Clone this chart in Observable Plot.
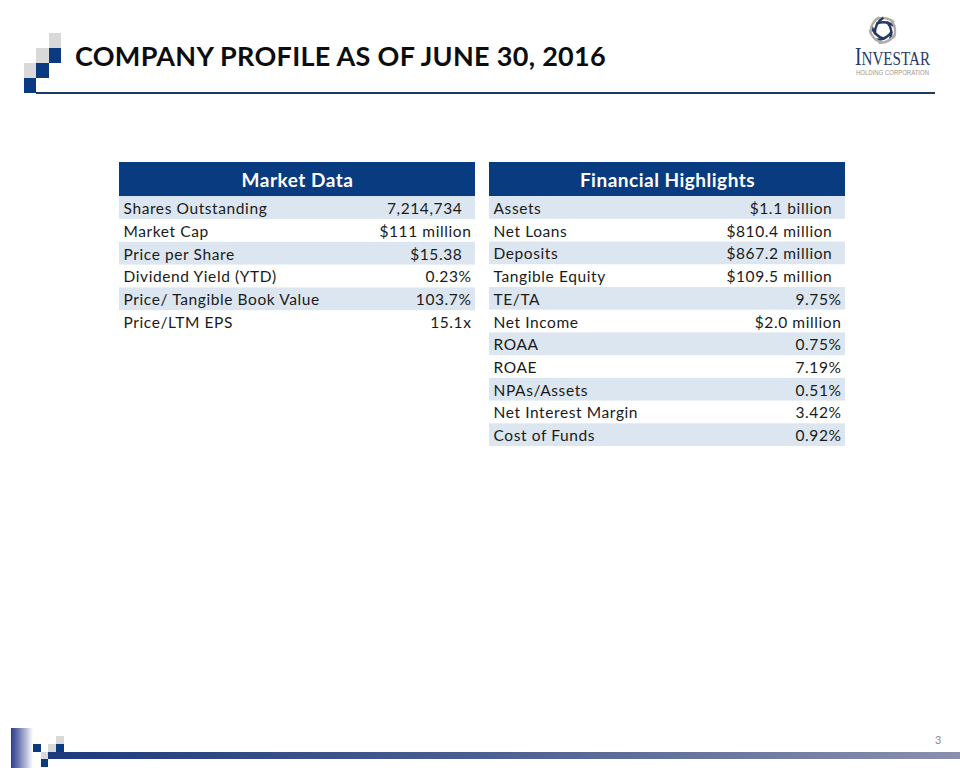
<!DOCTYPE html>
<html>
<head>
<meta charset="utf-8">
<script src="https://cdn.jsdelivr.net/npm/d3@7"></script>
<script src="https://cdn.jsdelivr.net/npm/@observablehq/plot@0.6"></script>
<style>
  html, body { margin: 0; padding: 0; background: #fff; }
  #slide { position: relative; width: 960px; height: 768px; overflow: hidden; background: #fff; font-family: Lato, "Open Sans", sans-serif; }
  .abs { position: absolute; }
  #title { left: 75px; top: 39px; font-size: 27px; font-weight: 700; color: #0d0d0d; white-space: nowrap; letter-spacing: 0.3px; }
  #pagenum { left: 935px; top: 733px; font-size: 11px; color: #8c8c8c; }
  #market { left: 119px; top: 162px; }
  #fin { left: 489px; top: 162px; }
</style>
</head>
<body>
<div id="slide">
  <!-- top-left stepped squares -->
  <div class="abs" style="left:49px;top:33px;width:12px;height:15px;background:#d9d9d9"></div>
  <div class="abs" style="left:49px;top:48px;width:12px;height:15px;background:#0b3a80"></div>
  <div class="abs" style="left:36px;top:48px;width:13px;height:15px;background:#d9d9d9"></div>
  <div class="abs" style="left:36px;top:63px;width:13px;height:15px;background:#0b3a80"></div>
  <div class="abs" style="left:24px;top:63px;width:12px;height:15px;background:#d9d9d9"></div>
  <div class="abs" style="left:24px;top:78px;width:12px;height:15px;background:#0b3a80"></div>
  <div class="abs" style="left:36px;top:92px;width:899px;height:2px;background:#1d3b5c"></div>
  <div id="title" class="abs"></div>

  <!-- logo -->
  <svg class="abs" style="left:840px;top:5px;overflow:visible" width="115" height="78" viewBox="840 5 115 78">
    <g transform="translate(883 30) scale(1.35) translate(-883 -30)"><g id="star"></g></g>
    <text x="855" y="65" font-family="'Liberation Serif','DejaVu Serif',serif" fill="#243a66" textLength="75" lengthAdjust="spacingAndGlyphs"><tspan font-size="25">I</tspan><tspan font-size="19.5">NVESTAR</tspan></text>
    <text x="856" y="75" font-family="'Liberation Sans',Arial,sans-serif" font-size="6.6" fill="#9d968c" textLength="73" lengthAdjust="spacingAndGlyphs">HOLDING CORPORATION</text>
  </svg>

  <div id="market" class="abs"></div>
  <div id="fin" class="abs"></div>

  <!-- bottom decoration -->
  <div class="abs" style="left:11px;top:728px;width:22px;height:40px;background:linear-gradient(to right,#2a3e8c,#6d78b0 35%,#ffffff)"></div>
  <div class="abs" style="left:33px;top:744px;width:8px;height:8px;background:#0b3a80"></div>
  <div class="abs" style="left:48px;top:744px;width:8px;height:8px;background:#d9d9d9"></div>
  <div class="abs" style="left:56px;top:736px;width:8px;height:8px;background:#d9d9d9"></div>
  <div class="abs" style="left:56px;top:744px;width:8px;height:8px;background:#0b3a80"></div>
  <div class="abs" style="left:41px;top:752px;width:7px;height:7px;background:#d9d9d9"></div>
  <div class="abs" style="left:41px;top:759px;width:7px;height:8px;background:#0b3a80"></div>
  <div class="abs" style="left:48px;top:752px;width:912px;height:7px;background:linear-gradient(to right,#1d3a7c,#4f6192 50%,#8a8fad)"></div>
  <div id="pagenum" class="abs"></div>
</div>
<script>
// ---- text ----
const slideTitle = "COMPANY PROFILE AS OF JUNE 30, 2016";
const pageNumber = "3";
const tableTitles = ["Market Data", "Financial Highlights"];

// ---- Market Data ----
const marketLabels = ["Shares Outstanding", "Market Cap", "Price per Share", "Dividend Yield (YTD)", "Price/ Tangible Book Value", "Price/LTM EPS"];
const marketValues = ["7,214,734\u00a0\u00a0", "$111 million", "$15.38\u00a0\u00a0", "0.23%", "103.7%", "15.1x"];

// ---- Financial Highlights ----
const finLabels = ["Assets", "Net Loans", "Deposits", "Tangible Equity", "TE/TA", "Net Income", "ROAA", "ROAE", "NPAs/Assets", "Net Interest Margin", "Cost of Funds"];
const finValues = ["$1.1 billion\u00a0\u00a0", "$810.4 million\u00a0\u00a0", "$867.2 million\u00a0\u00a0", "$109.5 million\u00a0\u00a0", "9.75%", "$2.0 million", "0.75%", "7.19%", "0.51%", "3.42%", "0.92%"];

document.getElementById("title").textContent = slideTitle;
document.getElementById("pagenum").textContent = pageNumber;

// star logo: five blades, each a navy and a grey stroke, set round a hollow centre
(function () {
  const g = document.getElementById("star");
  const cx = 883, cy = 30;
  for (let k = 0; k < 5; k++) {
    [["#243a66", 0], ["#b3ada3", 3.2]].forEach(([col, off]) => {
      const p = document.createElementNS("http://www.w3.org/2000/svg", "path");
      const r = 5.5 + off;
      p.setAttribute("d", `M ${cx - 4} ${cy - r} Q ${cx + 4} ${cy - r - 1.5} ${cx + 9} ${cy - r + 4.5}`);
      p.setAttribute("fill", "none");
      p.setAttribute("stroke", col);
      p.setAttribute("stroke-width", "1.8");
      p.setAttribute("stroke-linecap", "butt");
      p.setAttribute("transform", `rotate(${k * 72 - 10} ${cx} ${cy})`);
      g.appendChild(p);
    });
  }
})();

const rowH = 22.75;
const headerRows = 1.5;

function table(title, labels, values, width) {
  const n = labels.length;
  const height = Math.round((headerRows + n) * rowH);
  const rows = labels.map((label, i) => ({i, label, value: values[i]}));
  return Plot.plot({
    width, height,
    margin: 0,
    style: {fontFamily: "Lato, 'Open Sans', sans-serif", background: "transparent"},
    x: {domain: [0, 1], axis: null},
    y: {domain: [-headerRows, n], range: [0, height], axis: null},
    marks: [
      Plot.rect([title], {x1: 0, x2: 1, y1: -headerRows, y2: 0, fill: "#083b7f"}),
      Plot.text([title], {x: 0.5, y: -headerRows / 2, text: d => d, fill: "#ffffff", fontSize: 19, fontWeight: "bold", dy: 1}),
      Plot.rect(rows.filter(d => d.i % 2 === 0), {x1: 0, x2: 1, y1: d => d.i, y2: d => d.i + 1, fill: "#dce6f1"}),
      Plot.text(rows, {x: 0, y: d => d.i + 0.5, text: "label", textAnchor: "start", dx: 4, fill: "#1a1a1a", fontSize: 15.5, dy: 1}),
      Plot.text(rows, {x: 1, y: d => d.i + 0.5, text: "value", textAnchor: "end", dx: -4, fill: "#1a1a1a", fontSize: 15.5, dy: 1})
    ]
  });
}

document.getElementById("market").appendChild(table(tableTitles[0], marketLabels, marketValues, 356));
document.getElementById("fin").appendChild(table(tableTitles[1], finLabels, finValues, 356));
// letter spacing of the table texts, to match the wide set of the original
document.querySelectorAll("#market svg g[aria-label='text'], #fin svg g[aria-label='text']").forEach((g, i) => {
  g.style.letterSpacing = (i % 3 === 0) ? "0.5px" : "0.6px";
});
</script>
</body>
</html>
